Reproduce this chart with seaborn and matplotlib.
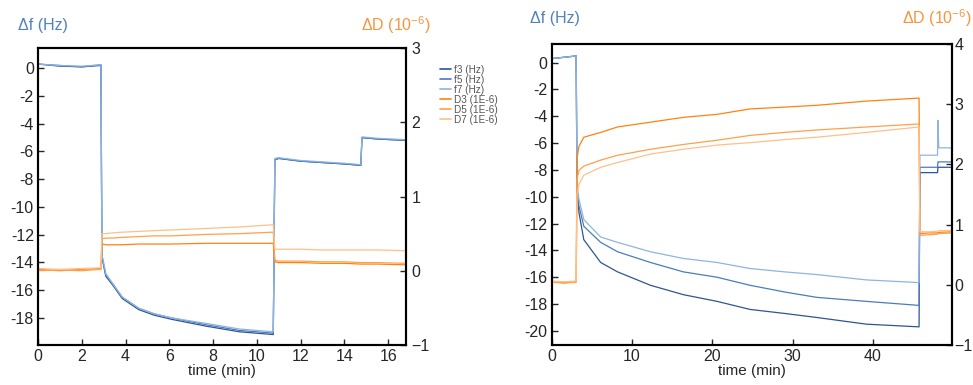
import numpy as np
import pandas as pd
import matplotlib
matplotlib.use("Agg")
import matplotlib.pyplot as plt
from matplotlib.lines import Line2D
import seaborn as sns

# ---- left panel (short run) ----
left_time = [0, 1, 2, 2.88, 2.92, 3.1, 3.4, 3.85, 4.6, 5.3, 6.1, 7.7, 9.2, 10.75,
             10.82, 11.0, 12, 13, 14, 14.75, 14.8, 15.5, 16.8]
left_f3 = [0.3, 0.15, 0.1, 0.2, -13.6, -15.0, -15.6, -16.6, -17.4, -17.8, -18.1, -18.6, -19.0, -19.2,
           -6.6, -6.5, -6.7, -6.8, -6.9, -7.0, -5.0, -5.1, -5.2]
left_f5 = [0.3, 0.2, 0.1, 0.25, -13.5, -14.9, -15.5, -16.5, -17.3, -17.7, -18.0, -18.5, -18.9, -19.1,
           -6.6, -6.5, -6.7, -6.8, -6.9, -7.0, -5.0, -5.1, -5.2]
left_f7 = [0.3, 0.2, 0.15, 0.25, -13.4, -14.8, -15.5, -16.5, -17.3, -17.7, -18.0, -18.4, -18.8, -19.0,
           -6.5, -6.45, -6.65, -6.75, -6.85, -6.95, -4.95, -5.05, -5.15]
left_d3 = [0.02, 0.0, 0.02, 0.03, 0.36, 0.35, 0.35, 0.35, 0.36, 0.36, 0.36, 0.37, 0.37, 0.37,
           0.12, 0.11, 0.11, 0.10, 0.10, 0.09, 0.09, 0.09, 0.08]
left_d5 = [0.0, 0.01, 0.0, 0.02, 0.43, 0.44, 0.44, 0.45, 0.46, 0.47, 0.47, 0.49, 0.5, 0.52,
           0.14, 0.13, 0.13, 0.12, 0.12, 0.11, 0.11, 0.11, 0.1]
left_d7 = [0.03, 0.02, 0.03, 0.04, 0.5, 0.5, 0.51, 0.52, 0.53, 0.54, 0.55, 0.57, 0.59, 0.62,
           0.29, 0.29, 0.29, 0.28, 0.28, 0.28, 0.28, 0.28, 0.27]

# ---- right panel (long run) ----
right_time = [0, 1.5, 3.05, 3.15, 3.4, 4.0, 6.1, 8.2, 12.3, 16.4, 20.6, 24.7, 29, 33, 39.2,
              45.75, 45.85, 47, 48.05, 48.1, 48.2, 49.9]
right_f3 = [0.3, 0.4, 0.5, -9.5, -11.2, -13.2, -14.9, -15.6, -16.6, -17.3, -17.8, -18.4, -18.7, -19.0, -19.5,
            -19.7, -8.2, -8.2, -8.2, -7.8, -7.8, -7.8]
right_f5 = [0.3, 0.4, 0.5, -9.3, -10.7, -12.2, -13.4, -14.1, -14.9, -15.6, -16.0, -16.6, -17.1, -17.5, -17.8,
            -18.1, -7.8, -7.8, -7.8, -7.4, -7.4, -7.4]
right_f7 = [0.3, 0.4, 0.5, -9.0, -10.2, -11.7, -13.0, -13.4, -14.1, -14.6, -14.9, -15.35, -15.6, -15.8, -16.2,
            -16.4, -6.9, -6.9, -6.9, -4.3, -6.35, -6.35]
right_d3 = [0.05, 0.03, 0.05, 2.1, 2.3, 2.45, 2.53, 2.62, 2.7, 2.78, 2.83, 2.92, 2.95, 2.98, 3.05,
            3.1, 0.85, 0.86, 0.86, 0.87, 0.87, 0.88]
right_d5 = [0.04, 0.03, 0.04, 1.75, 1.9, 1.97, 2.07, 2.15, 2.25, 2.33, 2.4, 2.48, 2.53, 2.57, 2.62,
            2.67, 0.82, 0.83, 0.84, 0.85, 0.85, 0.86]
right_d7 = [0.06, 0.05, 0.06, 1.5, 1.67, 1.82, 1.95, 2.03, 2.17, 2.25, 2.32, 2.36, 2.41, 2.45, 2.53,
            2.62, 0.88, 0.88, 0.89, 0.89, 0.9, 0.9]

f_names = ["f3 (Hz)", "f5 (Hz)", "f7 (Hz)"]
d_names = ["D3 (1E-6)", "D5 (1E-6)", "D7 (1E-6)"]
f_colors = ["#2f5592", "#4a7dbc", "#8fb4e0"]
d_colors = ["#ff8210", "#ffa04a", "#ffc088"]
BLUE = "#4f81bd"
ORANGE = "#f7953f"


def long_form(time, series, names):
    frames = [pd.DataFrame({"time": time, "value": vals, "series": name})
              for vals, name in zip(series, names)]
    return pd.concat(frames, ignore_index=True)


sns.set_style("ticks")
plt.rcParams["font.family"] = ["Liberation Sans", "DejaVu Sans"]
plt.rcParams["mathtext.default"] = "regular"

fig = plt.figure(figsize=(9.73, 3.85), dpi=100)
ax_l = fig.add_axes([0.039, 0.104, 0.378, 0.771])
ax_r = fig.add_axes([0.567, 0.104, 0.411, 0.782])

panels = [
    (ax_l, left_time, [left_f3, left_f5, left_f7], [left_d3, left_d5, left_d7],
     (0, 16.8), np.arange(0, 17, 2), (-19.95, 1.45), np.arange(-18, 1, 2), (-1, 3), [-1, 0, 1, 2, 3], 4),
    (ax_r, right_time, [right_f3, right_f5, right_f7], [right_d3, right_d5, right_d7],
     (0, 49.8), np.arange(0, 41, 10), (-21.05, 1.4), np.arange(-20, 1, 2), (-1, 4), [-1, 0, 1, 2, 3, 4], 2),
]

for ax, t, fs, ds, xlim, xt, ylim, yt, dlim, dt, dpad in panels:
    df_f = long_form(t, fs, f_names)
    sns.lineplot(data=df_f, x="time", y="value", hue="series", palette=f_colors,
                 estimator=None, linewidth=0.9, legend=False, ax=ax)
    ax2 = ax.twinx()
    df_d = long_form(t, ds, d_names)
    sns.lineplot(data=df_d, x="time", y="value", hue="series", palette=d_colors,
                 estimator=None, linewidth=0.9, legend=False, ax=ax2)

    ax.set_xlim(*xlim)
    ax.set_xticks(xt)
    ax.set_ylim(*ylim)
    ax.set_yticks(yt)
    ax.set_yticklabels([f"{v:g}" for v in yt])
    ax2.set_ylim(*dlim)
    ax2.set_yticks(dt)
    ax.set_xlabel("time (min)", fontsize=11, labelpad=0)
    ax.set_ylabel("")
    ax2.set_ylabel("")
    ax.tick_params(axis="both", direction="in", length=4, width=1, labelsize=11.5, pad=3)
    ax2.tick_params(axis="y", direction="in", length=4, width=1, labelsize=11.5, pad=dpad)
    for a in (ax, ax2):
        for s in a.spines.values():
            s.set_linewidth(1.5)
            s.set_color("black")

# axis titles
fig.text(0.019, 0.935, "Δf (Hz)", color=BLUE, fontsize=11.5, va="center", ha="left")
fig.text(0.442, 0.935, "ΔD (10$^{-6}$)", color=ORANGE, fontsize=11.5, va="center", ha="right")
fig.text(0.545, 0.953, "Δf (Hz)", color=BLUE, fontsize=11.5, va="center", ha="left")
fig.text(0.999, 0.953, "ΔD (10$^{-6}$)", color=ORANGE, fontsize=11.5, va="center", ha="right")

# legend between the panels
handles = [Line2D([0], [0], color=c, lw=1.2) for c in f_colors + d_colors]
fig.legend(handles, f_names + d_names, loc="upper left", bbox_to_anchor=(0.452, 0.832),
           frameon=False, fontsize=7.2, labelspacing=0.0, handlelength=1.1,
           handletextpad=0.3, borderaxespad=0, borderpad=0, labelcolor="#555555")

fig.savefig("out.png", dpi=100)
plt.close(fig)
